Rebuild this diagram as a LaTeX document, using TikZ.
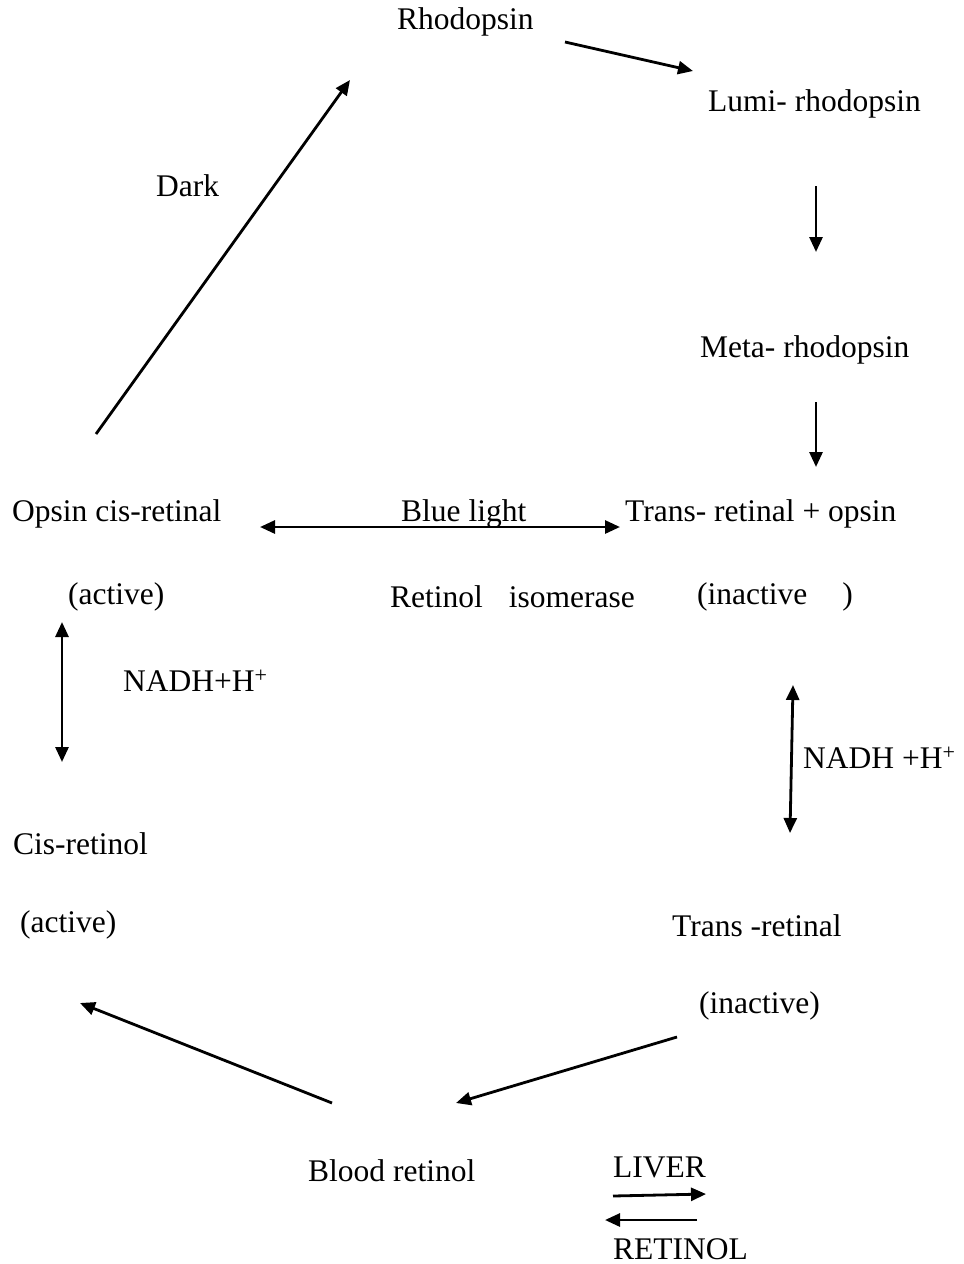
\documentclass[tikz,border=0pt]{standalone}
\usepackage{fontspec}
\setmainfont{Liberation Serif}
\usetikzlibrary{arrows.meta}
\begin{document}
\begin{tikzpicture}[x=1pt,y=-1pt,
  lbl/.style={anchor=west,inner sep=0pt,font=\fontsize{31.5}{38}\selectfont},
  conn/.style={line width=2.8pt,-{Triangle[length=15pt,width=13pt]}},
  dconn/.style={line width=2.8pt,{Triangle[length=15pt,width=13pt]}-{Triangle[length=15pt,width=13pt]}}]
\useasboundingbox (0,0) rectangle (964,1264);
\fill[white] (0,0) rectangle (964,1264);
% texts
\node[lbl] (rho) at (397,22) {Rhodopsin};
\node[lbl] (lumi) at (708,104) {Lumi- rhodopsin};
\node[lbl] (meta) at (700,350) {Meta- rhodopsin};
\node[lbl] (dark) at (156,186) {Dark};
\node[lbl] (opsin) at (12,514) {Opsin cis-retinal};
\node[lbl] (blue) at (401,514) {Blue light};
\node[lbl] (trans) at (625,514) {Trans- retinal + opsin};
\node[lbl] (act1) at (68,597) {(active)};
\node[lbl] (iso) at (390,597) {Retinol\hspace{26pt}isomerase};
\node[lbl] (inact1) at (697,597) {(inactive\hspace{35pt})};
\node[lbl] (nadhL) at (123,681) {NADH+H\textsuperscript{+}};
\node[lbl] (nadhR) at (803,758) {NADH +H\textsuperscript{+}};
\node[lbl] (cisr) at (13,844) {Cis-retinol};
\node[lbl] (act2) at (20,925) {(active)};
\node[lbl] (transr) at (672,926) {Trans -retinal};
\node[lbl] (inact2) at (699,1006) {(inactive)};
\node[lbl] (blood) at (308,1171) {Blood retinol};
\node[lbl] (liver) at (613,1167) {LIVER};
\node[lbl] (retinol) at (613,1249) {RETINOL};
% connector end points
\coordinate (a1s) at (565,42);   \coordinate (a1e) at (693,71);
\coordinate (a2s) at (816,186);  \coordinate (a2e) at (816,252);
\coordinate (a3s) at (816,402);  \coordinate (a3e) at (816,467);
\coordinate (a4s) at (96,434);   \coordinate (a4e) at (350,80);
\coordinate (a5s) at (260,527);  \coordinate (a5e) at (620,527);
\coordinate (a6s) at (62,622);   \coordinate (a6e) at (62,762);
\coordinate (a7s) at (793,685);  \coordinate (a7e) at (790,833);
\coordinate (a8s) at (677,1037); \coordinate (a8e) at (456,1103);
\coordinate (a9s) at (332,1103); \coordinate (a9e) at (80,1003);
\coordinate (a10s) at (613,1196); \coordinate (a10e) at (706,1194);
\coordinate (a11s) at (697,1220); \coordinate (a11e) at (605,1220);
% connectors
\draw[conn] (a1s) -- (a1e);
\draw[conn] (a2s) -- (a2e);
\draw[conn] (a3s) -- (a3e);
\draw[conn] (a4s) -- (a4e);
\draw[dconn] (a5s) -- (a5e);
\draw[dconn] (a6s) -- (a6e);
\draw[dconn] (a7s) -- (a7e);
\draw[conn] (a8s) -- (a8e);
\draw[conn] (a9s) -- (a9e);
\draw[conn] (a10s) -- (a10e);
\draw[conn] (a11s) -- (a11e);
\end{tikzpicture}
\end{document}
